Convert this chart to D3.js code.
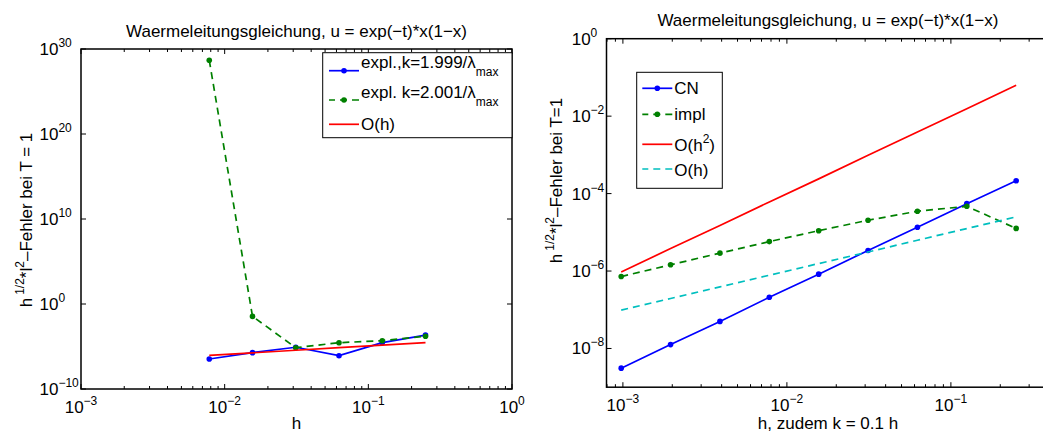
<!DOCTYPE html>
<html>
<head>
<meta charset="utf-8">
<script src="https://cdn.jsdelivr.net/npm/d3@7"></script>
<style>
  body { margin: 0; background: #fff; }
  svg text { font-family: "Liberation Sans", Arial, sans-serif; fill: #000; }
</style>
</head>
<body>
<div id="chart"></div>
<script>
// left panel: explicit scheme, stable vs unstable step size
const leftH = [0.0078125, 0.015625, 0.03125, 0.0625, 0.125, 0.25];
const leftExplStable = [3.4e-7, 1.9e-6, 8.1e-6, 8.3e-7, 2.8e-5, 2.2e-4];
const leftExplUnstable = [4.7e28, 3.5e-2, 7.2e-6, 2.8e-5, 4.8e-5, 1.6e-4];
const leftOh = [9.0e-7, 1.8e-6, 3.6e-6, 7.2e-6, 1.44e-5, 2.9e-5];

// right panel: Crank-Nicolson vs implicit, k = 0.1 h
const rightH = [0.0009765625, 0.001953125, 0.00390625, 0.0078125, 0.015625, 0.03125, 0.0625, 0.125, 0.25];
const rightCN = [3.1e-9, 1.26e-8, 5.0e-8, 2.1e-7, 8.3e-7, 3.4e-6, 1.35e-5, 5.5e-5, 2.15e-4];
const rightImpl = [7.2e-7, 1.45e-6, 2.9e-6, 5.75e-6, 1.1e-5, 2.05e-5, 3.5e-5, 4.7e-5, 1.26e-5];
const rightOh2 = [9.5e-7, 3.8e-6, 1.5e-5, 6.1e-5, 2.4e-4, 9.8e-4, 3.9e-3, 1.56e-2, 6.25e-2];
const rightOh = [9.8e-8, 1.95e-7, 3.9e-7, 7.8e-7, 1.56e-6, 3.1e-6, 6.25e-6, 1.25e-5, 2.5e-5];

const leftXTickExp = [-3, -2, -1, 0];
const leftYTickExp = [-10, 0, 10, 20, 30];
const rightXTickExp = [-3, -2, -1];
const rightYTickExp = [-8, -6, -4, -2, 0];

const title = "Waermeleitungsgleichung, u = exp(\u2212t)*x(1\u2212x)";

const BLUE = "#0000ff", GREEN = "#008000", RED = "#ff0000", CYAN = "#00bfbf";

const svg = d3.select("#chart")
    .append("svg")
        .attr("width", 1043)
        .attr("height", 432);

const expText = e => e < 0 ? "\u2212" + (-e) : String(e);

function powLabel(sel, e) {
    sel.append("tspan").text("10");
    sel.append("tspan").attr("dy", -8).style("font-size", "12px").text(expText(e));
}

function drawPanel(p) {
    const x = d3.scaleLog().domain(p.xDomain).range(p.xRange);
    const y = d3.scaleLog().domain(p.yDomain).range(p.yRange);
    const [xl, xr] = p.xRange;
    const [yb, yt] = p.yRange;

    const g = svg.append("g");

    svg.append("clipPath").attr("id", p.id + "-clip")
        .append("rect")
            .attr("x", xl).attr("y", yt)
            .attr("width", xr - xl).attr("height", yb - yt);

    // ticks, inward on all sides
    const lg = p.xDomain.map(Math.log10);
    const minor = [];
    for (let k = Math.floor(lg[0]); k < Math.ceil(lg[1]); k++) {
        for (let m = 2; m <= 9; m++) {
            const v = m * Math.pow(10, k);
            if (v >= p.xDomain[0] && v <= p.xDomain[1]) minor.push(v);
        }
    }
    const xTicks = p.xTickExp.map(e => ({v: Math.pow(10, e), len: 5}))
        .concat(minor.map(v => ({v: v, len: 3})));

    g.selectAll(".xtick-b")
        .data(xTicks)
        .join("line")
            .attr("x1", d => x(d.v)).attr("x2", d => x(d.v))
            .attr("y1", yb).attr("y2", d => yb - d.len)
            .attr("stroke", "#000").attr("stroke-width", 1);
    g.selectAll(".xtick-t")
        .data(xTicks)
        .join("line")
            .attr("x1", d => x(d.v)).attr("x2", d => x(d.v))
            .attr("y1", yt).attr("y2", d => yt + d.len)
            .attr("stroke", "#000").attr("stroke-width", 1);

    const yTicks = p.yTickExp.map(e => Math.pow(10, e));
    g.selectAll(".ytick-l")
        .data(yTicks)
        .join("line")
            .attr("x1", xl).attr("x2", xl + 5)
            .attr("y1", d => y(d)).attr("y2", d => y(d))
            .attr("stroke", "#000").attr("stroke-width", 1);
    g.selectAll(".ytick-r")
        .data(yTicks)
        .join("line")
            .attr("x1", xr).attr("x2", xr - 5)
            .attr("y1", d => y(d)).attr("y2", d => y(d))
            .attr("stroke", "#000").attr("stroke-width", 1);

    g.append("rect")
        .attr("x", xl).attr("y", yt)
        .attr("width", xr - xl).attr("height", yb - yt)
        .attr("fill", "none")
        .attr("stroke", "#000")
        .attr("stroke-width", 1.5);

    // tick labels
    p.xTickExp.forEach(e => {
        const t = g.append("text")
            .attr("x", x(Math.pow(10, e)))
            .attr("y", yb + 24)
            .attr("text-anchor", "middle")
            .style("font-size", "17px");
        powLabel(t, e);
    });
    p.yTickExp.forEach(e => {
        const t = g.append("text")
            .attr("x", p.yLabelX)
            .attr("y", y(Math.pow(10, e)) + 6)
            .style("font-size", "17px");
        powLabel(t, e);
    });

    // series
    const line = d3.line()
        .x(d => x(d[0]))
        .y(d => y(d[1]));

    const plot = g.append("g").attr("clip-path", "url(#" + p.id + "-clip)");
    p.series.forEach(s => {
        const pts = p.h.map((h, i) => [h, s.values[i]]);
        plot.append("path")
            .datum(pts)
            .attr("d", line)
            .attr("fill", "none")
            .attr("stroke", s.color)
            .attr("stroke-width", 1.7)
            .attr("stroke-dasharray", s.dash ? "7,5" : null);
        if (s.marker) {
            plot.selectAll(null)
                .data(pts)
                .join("circle")
                    .attr("cx", d => x(d[0]))
                    .attr("cy", d => y(d[1]))
                    .attr("r", 2.8)
                    .attr("fill", s.color);
        }
    });

    // titles and labels
    g.append("text")
        .attr("x", (xl + xr) / 2)
        .attr("y", yt - 12.3)
        .attr("text-anchor", "middle")
        .style("font-size", "17px")
        .text(title);

    g.append("text")
        .attr("x", p.xLabelPos[0])
        .attr("y", p.xLabelPos[1])
        .attr("text-anchor", "middle")
        .style("font-size", "17px")
        .text(p.xLabel);

    const yl = g.append("text")
        .attr("transform", "translate(" + p.yTitlePos[0] + "," + p.yTitlePos[1] + ") rotate(-90)")
        .attr("text-anchor", "middle")
        .style("font-size", "17px");
    yl.append("tspan").text("h");
    yl.append("tspan").attr("dx", 3).attr("dy", -8).style("font-size", "12px").text("1/2");
    yl.append("tspan").attr("dy", 8).text("*l");
    yl.append("tspan").attr("dy", -8).style("font-size", "12px").text("2");
    yl.append("tspan").attr("dy", 8).text("\u2013Fehler bei " + p.yTitleEnd);

    // legend
    const L = p.legend;
    g.append("rect")
        .attr("x", L.x).attr("y", L.y)
        .attr("width", L.w).attr("height", L.h)
        .attr("fill", "#fff")
        .attr("stroke", "#000")
        .attr("stroke-width", 1);
    p.series.forEach((s, i) => {
        const ly = L.rows[i];
        g.append("line")
            .attr("x1", L.lineX[0]).attr("x2", L.lineX[1])
            .attr("y1", ly).attr("y2", ly)
            .attr("stroke", s.color)
            .attr("stroke-width", 1.7)
            .attr("stroke-dasharray", s.dash ? "7,5" : null)
            .attr("stroke-dashoffset", s.dash ? 1 : null);
        if (s.marker) {
            g.append("circle")
                .attr("cx", (L.lineX[0] + L.lineX[1]) / 2)
                .attr("cy", ly)
                .attr("r", 2.8)
                .attr("fill", s.color);
        }
        const t = g.append("text")
            .attr("x", L.lineX[1] + 2)
            .attr("y", ly + s.textDy)
            .style("font-size", "17px");
        s.label.forEach(part => {
            const ts = t.append("tspan").text(part.t);
            if (part.dy) ts.attr("dy", part.dy);
            if (part.small) ts.style("font-size", "12px");
        });
    });
}

drawPanel({
    id: "left",
    h: leftH,
    xRange: [81, 512], xDomain: [1e-3, 1],
    yRange: [389, 49], yDomain: [1e-10, 1e30],
    xTickExp: leftXTickExp, yTickExp: leftYTickExp,
    yLabelX: 39.5,
    xLabel: "h", xLabelPos: [296.5, 428.5],
    yTitlePos: [32.3, 220], yTitleEnd: "T = 1",
    series: [
        {values: leftExplStable, color: BLUE, marker: true, dash: false, textDy: -2.5,
            label: [{t: "expl.,k=1.999/\u03bb"}, {t: "max", dy: 8, small: true}]},
        {values: leftExplUnstable, color: GREEN, marker: true, dash: true, textDy: -2.5,
            label: [{t: "expl. k=2.001/\u03bb"}, {t: "max", dy: 8, small: true}]},
        {values: leftOh, color: RED, marker: false, dash: false, textDy: 5.5,
            label: [{t: "O(h)"}]}
    ],
    legend: {x: 322.7, y: 52.7, w: 189.3, h: 85, rows: [70.7, 100, 124.3], lineX: [329, 359]}
});

drawPanel({
    id: "right",
    h: rightH,
    xRange: [606.5, 1049.3], xDomain: [Math.pow(10, -3.1), Math.pow(10, -0.4)],
    yRange: [387.2, 38.7], yDomain: [1e-9, 1],
    xTickExp: rightXTickExp, yTickExp: rightYTickExp,
    yLabelX: 571.7,
    xLabel: "h, zudem k = 0.1 h", xLabelPos: [828, 428.5],
    yTitlePos: [562.3, 180.5], yTitleEnd: "T=1",
    series: [
        {values: rightCN, color: BLUE, marker: true, dash: false, textDy: 6,
            label: [{t: "CN"}]},
        {values: rightImpl, color: GREEN, marker: true, dash: true, textDy: 6,
            label: [{t: "impl"}]},
        {values: rightOh2, color: RED, marker: false, dash: false, textDy: 7,
            label: [{t: "O(h"}, {t: "2", dy: -8, small: true}, {t: ")", dy: 8}]},
        {values: rightOh, color: CYAN, marker: false, dash: true, textDy: 6.5,
            label: [{t: "O(h)"}]}
    ],
    legend: {x: 636.7, y: 72.3, w: 85.6, h: 116, rows: [88.3, 114.3, 144.3, 169], lineX: [642.3, 672.3]}
});
</script>
</body>
</html>
